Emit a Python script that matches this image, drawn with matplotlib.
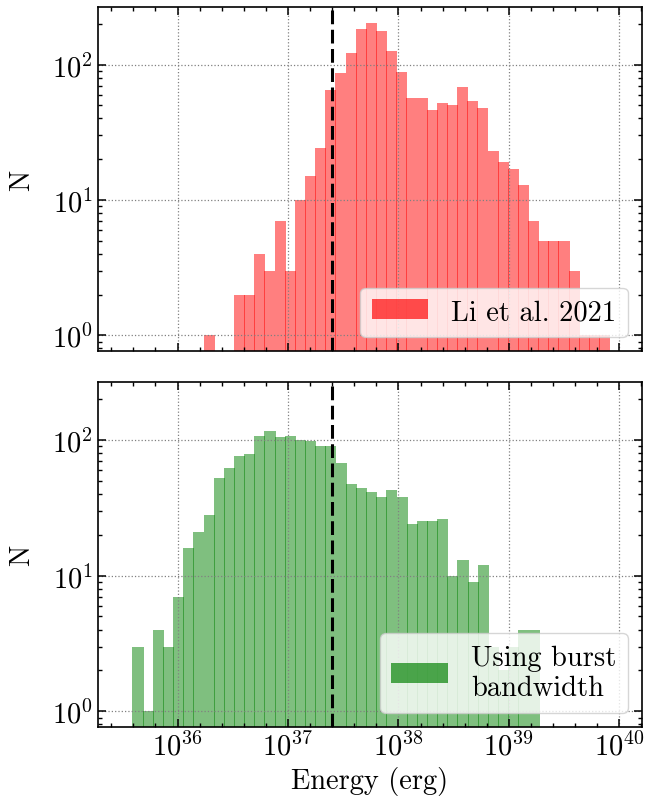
import numpy as np
import matplotlib
matplotlib.use('Agg')
import matplotlib.pyplot as plt
from matplotlib.ticker import FuncFormatter, MultipleLocator, LogLocator

# ---- data (log10 energy bins, 40 bins each) ----
li_logE_range = (36.236, 39.908)
li_counts = [1, 0, 0, 2, 2, 4, 3, 7, 3, 10, 15, 24, 65, 86, 121, 182, 204, 176,
             127, 88, 57, 57, 46, 52, 50, 68, 54, 48, 23, 19, 17, 13, 7, 5, 5, 5,
             3, 1, 1, 1]
bw_logE_range = (35.592, 39.270)
bw_counts = [3, 1, 4, 3, 7, 16, 21, 28, 52, 62, 76, 78, 107, 115, 105, 107, 100,
             98, 90, 90, 67, 47, 44, 41, 38, 43, 38, 24, 25, 25, 26, 10, 13, 9,
             12, 3, 2, 3, 4, 4]
threshold_energy = 2.5e37
labels = ['Li et al. 2021', 'Using burst\nbandwidth']
colors = ['red', 'green']
xticks = [36, 37, 38, 39, 40]

plt.rcParams.update({
    'font.family': 'serif',
    'font.serif': ['cmr10', 'DejaVu Serif'],
    'mathtext.fontset': 'cm',
    'axes.formatter.use_mathtext': True,
    'font.size': 20.5,
    'axes.linewidth': 1.2,
    'xtick.direction': 'in', 'ytick.direction': 'in',
    'xtick.top': True, 'ytick.right': True,
    'xtick.major.size': 5.8, 'ytick.major.size': 5.8,
    'xtick.minor.size': 3.0, 'ytick.minor.size': 3.0,
    'xtick.major.width': 1.1, 'ytick.major.width': 1.1,
    'xtick.minor.width': 1.0, 'ytick.minor.width': 1.0,
    'xtick.minor.visible': True, 'ytick.minor.visible': True,
})

fig = plt.figure(figsize=(6.46, 8.04), dpi=100)
ax1 = fig.add_axes([0.1517, 0.5622, 0.8421, 0.4278])
ax2 = fig.add_axes([0.1517, 0.0945, 0.8421, 0.4291], sharex=ax1, sharey=ax1)

def draw(ax, rng, counts, color, label):
    edges = np.linspace(rng[0], rng[1], len(counts) + 1)
    widths = np.diff(edges) + 0.008
    ax.bar(edges[:-1], counts, width=widths, align='edge', color=color,
           alpha=0.5, linewidth=0, label=label)
    ax.axvline(np.log10(threshold_energy), color='black', ls='--', lw=2.2,
               dashes=(4.5, 1.8), zorder=5)
    ax.set_yscale('log')
    ax.grid(True, which='major', color='gray', ls=':', lw=0.9)
    ax.set_ylabel('N')
    leg = ax.legend(loc='lower right')
    for h in leg.legend_handles:
        h.set_alpha(0.68)

draw(ax1, li_logE_range, li_counts, colors[0], labels[0])
draw(ax2, bw_logE_range, bw_counts, colors[1], labels[1])

ax1.set_xlim(35.28, 40.205)
ax1.set_ylim(10 ** -0.1155, 10 ** 2.425)
ax1.set_xticks(xticks)
ax1.xaxis.set_minor_locator(MultipleLocator(0.2))
ax1.xaxis.set_major_formatter(FuncFormatter(lambda v, p: r'$10^{%d}$' % round(v)))
ax1.yaxis.set_major_locator(LogLocator(base=10))
ax1.yaxis.set_minor_locator(LogLocator(base=10, subs=np.arange(2, 10)))
plt.setp(ax1.get_xticklabels(), visible=False)
ax2.set_xlabel('Energy (erg)')
ax1.yaxis.labelpad = 12
ax2.yaxis.labelpad = 12

fig.savefig('out.png', dpi=100)
